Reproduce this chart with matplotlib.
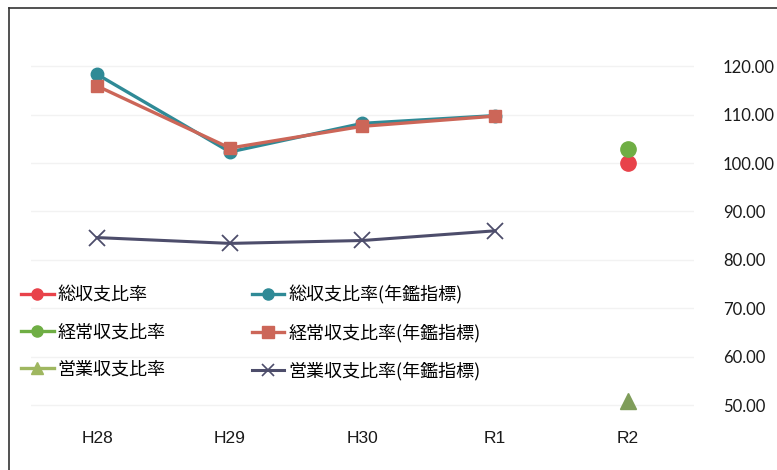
import numpy as np
import matplotlib.pyplot as plt
from matplotlib.lines import Line2D

plt.rcParams['font.family'] = ['Noto Sans CJK JP', 'DejaVu Sans']

years = ["H28", "H29", "H30", "R1", "R2"]
x = np.arange(len(years))

# R2 only (own figures)
sou = [np.nan, np.nan, np.nan, np.nan, 100.0]
keijo = [np.nan, np.nan, np.nan, np.nan, 103.0]
eigyo = [np.nan, np.nan, np.nan, np.nan, 50.9]
# yearbook indicators H28-R1
sou_nenkan = [118.3, 102.3, 108.2, 109.8, np.nan]
keijo_nenkan = [115.9, 103.1, 107.6, 109.7, np.nan]
eigyo_nenkan = [84.6, 83.4, 84.0, 86.0, np.nan]

yticks = [50, 60, 70, 80, 90, 100, 110, 120]

fig = plt.figure(figsize=(7.77, 4.70), dpi=100)
ax = fig.add_axes([0.040, 0.097, 0.853, 0.865])

ax.plot(x, sou_nenkan, color="#2f8a96", lw=2.4, marker="o", ms=9, zorder=3)
ax.plot(x, keijo_nenkan, color="#cc6658", lw=2.4, marker="s", ms=9, zorder=4)
ax.plot(x, eigyo_nenkan, color="#4d4d6b", lw=2.2, marker="x", ms=12, mew=1.3, zorder=3)
ax.plot(x, sou, color="#e8424a", ls="none", marker="o", ms=11, zorder=4)
ax.plot(x, keijo, color="#6fae44", ls="none", marker="o", ms=11, zorder=5)
ax.plot(x, eigyo, color="#7f9d5a", ls="none", marker="^", ms=11, zorder=4)

ax.set_xlim(-0.5, 4.5)
ax.set_ylim(46, 130)
ax.set_xticks(x)
ax.set_xticklabels(years, fontsize=12.5, family=["Liberation Sans", "DejaVu Sans"], color="#1a1a1a")
ax.yaxis.tick_right()
ax.set_yticks(yticks)
ax.set_yticklabels(["%.2f" % v for v in yticks], fontsize=12, ha="left",
                   family=["Lato", "DejaVu Sans"], color="#1a1a1a")
ax.tick_params(axis="y", length=0, pad=21)
ax.tick_params(axis="x", length=0, pad=5)
for s in ax.spines.values():
    s.set_visible(False)
ax.grid(axis="y", color="#f2f2f2", lw=1)
ax.set_axisbelow(True)

handles = [
    Line2D([], [], color="#e8424a", lw=2.4, marker="o", ms=8),
    Line2D([], [], color="#6fae44", lw=2.4, marker="o", ms=8),
    Line2D([], [], color="#9fb760", lw=2.4, marker="^", ms=8),
    Line2D([], [], color="#2f8a96", lw=2.4, marker="o", ms=8),
    Line2D([], [], color="#cc6658", lw=2.4, marker="s", ms=8),
    Line2D([], [], color="#4d4d6b", lw=2.2, marker="x", ms=9, mew=1.2),
]
labels = ["総収支比率", "経常収支比率", "営業収支比率",
          "総収支比率(年鑑指標)", "経常収支比率(年鑑指標)", "営業収支比率(年鑑指標)"]
fig.legend(handles, labels, ncol=2, loc="upper left", bbox_to_anchor=(0.018, 0.408),
           frameon=False, fontsize=13, handlelength=1.8, handletextpad=0.2,
           columnspacing=4.8, labelspacing=1.05, borderaxespad=0)

# chart border (left and top visible)
fig.add_artist(Line2D([0.012, 0.012], [0.0, 0.983], color="#333333", lw=1.2))
fig.add_artist(Line2D([0.012, 1.0], [0.983, 0.983], color="#333333", lw=1.2))

fig.savefig("out.png", dpi=100)
